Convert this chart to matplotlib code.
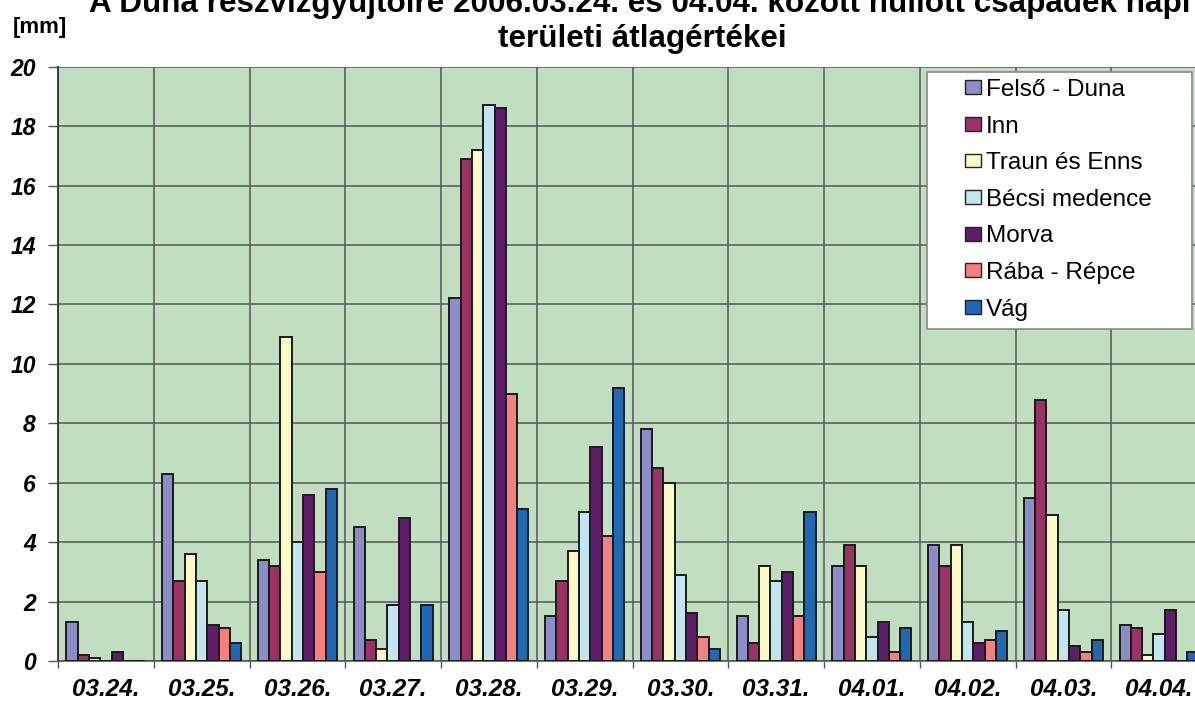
import matplotlib
matplotlib.use("Agg")
import matplotlib.pyplot as plt
from matplotlib.patches import Patch, Rectangle
import numpy as np

plt.rcParams['font.family'] = ['Liberation Sans', 'DejaVu Sans']

categories = ["03.24.", "03.25.", "03.26.", "03.27.", "03.28.", "03.29.",
              "03.30.", "03.31.", "04.01.", "04.02.", "04.03.", "04.04."]

felso_duna   = [1.3, 6.3, 3.4, 4.5, 12.2, 1.5, 7.8, 1.5, 3.2, 3.9, 5.5, 1.2]
inn          = [0.2, 2.7, 3.2, 0.7, 16.9, 2.7, 6.5, 0.6, 3.9, 3.2, 8.8, 1.1]
traun_enns   = [0.1, 3.6, 10.9, 0.4, 17.2, 3.7, 6.0, 3.2, 3.2, 3.9, 4.9, 0.2]
becsi        = [0.0, 2.7, 4.0, 1.9, 18.7, 5.0, 2.9, 2.7, 0.8, 1.3, 1.7, 0.9]
morva        = [0.3, 1.2, 5.6, 4.8, 18.6, 7.2, 1.6, 3.0, 1.3, 0.6, 0.5, 1.7]
raba_repce   = [0.0, 1.1, 3.0, 0.0, 9.0, 4.2, 0.8, 1.5, 0.3, 0.7, 0.3, 0.0]
vag          = [0.0, 0.6, 5.8, 1.9, 5.1, 9.2, 0.4, 5.0, 1.1, 1.0, 0.7, 0.3]

series_names = ["Felső - Duna", "Inn", "Traun és Enns", "Bécsi medence",
                "Morva", "Rába - Répce", "Vág"]
series_values = [felso_duna, inn, traun_enns, becsi, morva, raba_repce, vag]
colors = ["#8c8cc8", "#993366", "#fafac8", "#c2e6f0", "#5e1e6a", "#f58080", "#1f68b8"]

yticks = [0, 2, 4, 6, 8, 10, 12, 14, 16, 18, 20]

W, H = 1195, 702
fig = plt.figure(figsize=(W / 100, H / 100), dpi=100)
fig.patch.set_facecolor("white")

left, right, top, bottom = 58.0, 1207.0, 66.7, 661.0
ax = fig.add_axes([left / W, 1 - bottom / H, (right - left) / W, (bottom - top) / H])
ax.set_facecolor("#c1dfc0")

n = len(series_names)
x = np.arange(len(categories))
bw = 0.118
for i, (name, vals, c) in enumerate(zip(series_names, series_values, colors)):
    offs = (i - (n - 1) / 2) * bw
    ax.bar(x + offs, vals, width=bw, color=c, edgecolor="#1a1a1a",
           linewidth=1.4, zorder=3, label=name)

ax.set_xlim(-0.5, len(categories) - 0.5)
ax.set_ylim(0, 20)
ax.set_yticks(yticks)
ax.set_yticklabels([str(v) for v in yticks], fontsize=16.5, fontweight="bold",
                   fontstyle="italic")
ax.set_xticks(x)
ax.set_xticklabels(categories, fontsize=17.5, fontweight="bold", fontstyle="italic")
ax.set_xticks(np.arange(len(categories) + 1) - 0.5, minor=True)
ax.tick_params(axis="x", which="major", length=0, pad=12)
ax.tick_params(axis="x", which="minor", length=5, width=1, color="#555555")
ax.tick_params(axis="y", which="major", length=7, width=1, color="#555555", pad=9)

ax.grid(axis="y", which="major", color="#555555", linewidth=1.1, zorder=1)
ax.grid(axis="x", which="minor", color="#555555", linewidth=1.1, zorder=1)
ax.set_axisbelow(True)
for s in ["top", "right"]:
    ax.spines[s].set_visible(False)
ax.spines["left"].set_color("#333333")
ax.spines["left"].set_linewidth(1.3)
ax.spines["bottom"].set_color("#555555")
ax.spines["bottom"].set_linewidth(1.2)

# Title (two lines, partly cropped at top as in the reference)
fig.text(640 / W, 1 - 12 / H,
         "A Duna részvízgyűjtőire 2006.03.24. és 04.04. között hullott csapadék napi",
         ha="center", va="baseline", fontsize=22.6, fontweight="bold")
fig.text(642 / W, 1 - 47 / H, "területi átlagértékei",
         ha="center", va="baseline", fontsize=22.6, fontweight="bold")
fig.text(40 / W, 1 - 28 / H, "[mm]", ha="center", va="center",
         fontsize=16, fontweight="bold")

# Legend frame
lx0, ly0, lx1, ly1 = 927, 72, 1192, 329
fig.patches.append(Rectangle((lx0 / W, 1 - ly1 / H), (lx1 - lx0) / W, (ly1 - ly0) / H,
                             transform=fig.transFigure, facecolor="white",
                             edgecolor="#888888", linewidth=1.2, zorder=4))
handles = [Patch(facecolor=c, edgecolor="#222222", linewidth=1.0) for c in colors]
fig.legend(handles, series_names, loc="upper left",
           bbox_to_anchor=(948 / W, 1 - 62 / H), frameon=False,
           fontsize=17.5, handlelength=0.66, handleheight=0.5,
           handletextpad=0.2, labelspacing=0.6, borderpad=0.2)

fig.savefig("out.png", dpi=100)
